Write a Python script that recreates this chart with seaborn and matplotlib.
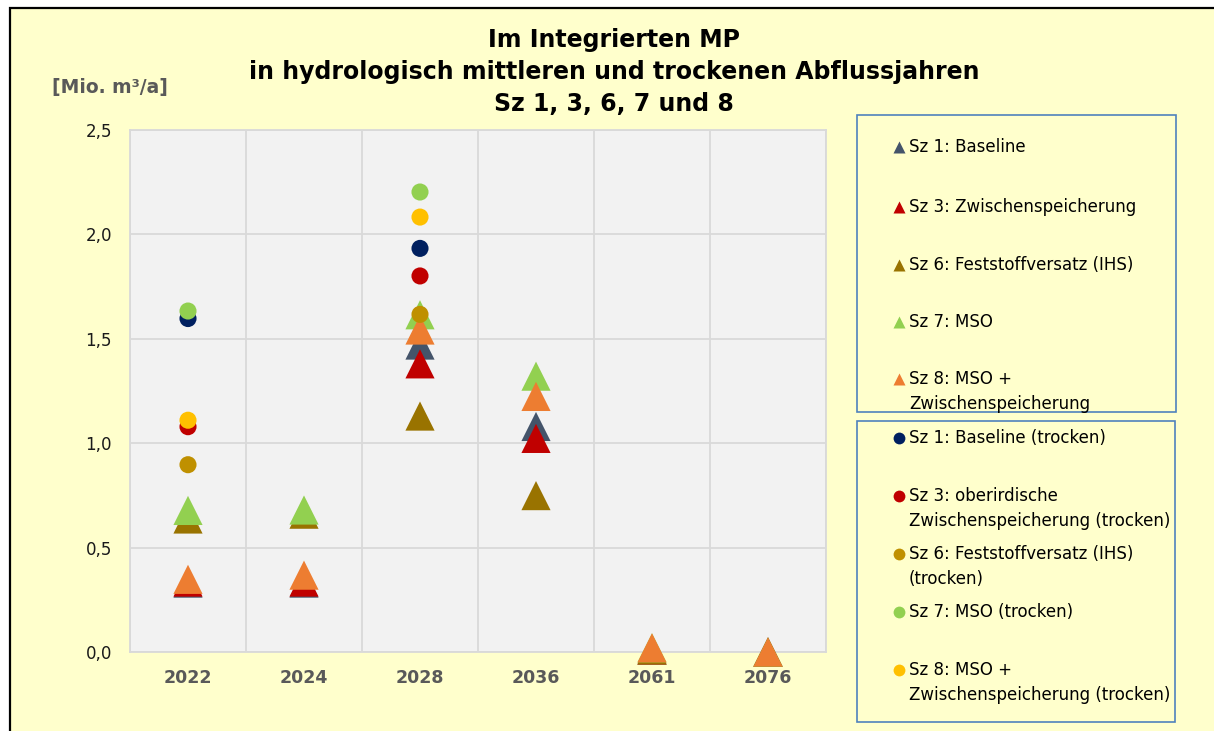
import numpy as np
import pandas as pd
import matplotlib.pyplot as plt
import seaborn as sns
from matplotlib.lines import Line2D
from matplotlib.patches import Rectangle

# Kategorien (Jahre)
jahre = ['2022', '2024', '2028', '2036', '2061', '2076']

# mittlere Abflussjahre (Dreiecke)
namen_mittel = ['Sz 1: Baseline', 'Sz 3: Zwischenspeicherung',
                'Sz 6: Feststoffversatz (IHS)', 'Sz 7: MSO',
                'Sz 8: MSO +\nZwischenspeicherung']
sz1 = [0.33, 0.33, 1.47, 1.08, 0.01, 0.0]
sz3 = [0.335, 0.335, 1.38, 1.023, 0.01, 0.0]
sz6 = [0.637, 0.66, 1.13, 0.749, 0.01, 0.0]
sz7 = [0.678, 0.68, 1.615, 1.321, 0.02, 0.0]
sz8 = [0.348, 0.368, 1.542, 1.224, 0.02, 0.0]

# trockene Abflussjahre (Kreise)
namen_trocken = ['Sz 1: Baseline (trocken)',
                 'Sz 3: oberirdische\nZwischenspeicherung (trocken)',
                 'Sz 6: Feststoffversatz (IHS)\n(trocken)',
                 'Sz 7: MSO (trocken)',
                 'Sz 8: MSO +\nZwischenspeicherung (trocken)']
sz1_tr = [1.597, np.nan, 1.933, np.nan, np.nan, np.nan]
sz3_tr = [1.079, np.nan, 1.801, np.nan, np.nan, np.nan]
sz6_tr = [0.897, np.nan, 1.617, np.nan, np.nan, np.nan]
sz7_tr = [1.633, np.nan, 2.203, np.nan, np.nan, np.nan]
sz8_tr = [1.11, np.nan, 2.083, np.nan, np.nan, np.nan]

farben_mittel = ['#44546A', '#C00000', '#997300', '#92D050', '#ED7D31']
farben_trocken = ['#002060', '#C00000', '#BF9000', '#92D050', '#FFC000']

y_ticks = [0.0, 0.5, 1.0, 1.5, 2.0, 2.5]
y_ticklabels = ['0,0', '0,5', '1,0', '1,5', '2,0', '2,5']


def long_df(namen, reihen):
    rows = []
    for name, werte in zip(namen, reihen):
        for j, w in zip(jahre, werte):
            rows.append({'Jahr': j, 'Wert': w, 'Szenario': name})
    return pd.DataFrame(rows)


df_m = long_df(namen_mittel, [sz1, sz3, sz6, sz7, sz8])
df_t = long_df(namen_trocken, [sz1_tr, sz3_tr, sz6_tr, sz7_tr, sz8_tr]).dropna()

W, H = 1214, 731
fig = plt.figure(figsize=(W / 100, H / 100), dpi=100)
fig.patch.set_facecolor('white')


def px(x, y):
    return x / W, 1 - y / H


# gelber Diagrammbereich mit schwarzem Rahmen
fig.add_artist(Rectangle(px(10, 760), 1.2, (760 - 8) / H, transform=fig.transFigure,
                         facecolor='#FFFFCC', edgecolor='black', lw=1.6, zorder=-5))

l, b = px(130, 652)
r, t = px(826, 130)
ax = fig.add_axes([l, b, r - l, t - b])
ax.set_facecolor('#F2F2F2')

sns.stripplot(data=df_m, x='Jahr', y='Wert', hue='Szenario', order=jahre,
              hue_order=namen_mittel, palette=dict(zip(namen_mittel, farben_mittel)),
              jitter=False, dodge=False, marker='^', size=21, linewidth=0,
              legend=False, clip_on=False, ax=ax)
sns.stripplot(data=df_t, x='Jahr', y='Wert', hue='Szenario', order=jahre,
              hue_order=namen_trocken, palette=dict(zip(namen_trocken, farben_trocken)),
              jitter=False, dodge=False, marker='o', size=12.3, linewidth=0,
              legend=False, clip_on=False, ax=ax)

ax.set_xlim(-0.5, 5.5)
ax.set_ylim(0, 2.5)
ax.set_yticks(y_ticks)
ax.set_yticklabels(y_ticklabels, fontsize=12, color='#1a1a1a')
ax.set_xticks(range(len(jahre)))
ax.set_xticklabels(jahre, fontsize=12.5, fontweight='bold', color='#595959')
ax.set_xticks(np.arange(-0.5, 6, 1), minor=True)
ax.tick_params(which='both', length=0)
ax.tick_params(axis='y', pad=13)
ax.tick_params(axis='x', pad=12)
ax.set_axisbelow(True)
ax.grid(True, axis='y', which='major', color='#D9D9D9', lw=1.3)
ax.grid(True, axis='x', which='minor', color='#D9D9D9', lw=1.3)
ax.grid(False, axis='x', which='major')
for s in ax.spines.values():
    s.set_color('#D9D9D9')
    s.set_linewidth(1.3)
ax.set_xlabel('')
ax.set_ylabel('')

# Titel
titel = ['Im Integrierten MP',
         'in hydrologisch mittleren und trockenen Abflussjahren',
         'Sz 1, 3, 6, 7 und 8']
for zeile, yy in zip(titel, [40, 72, 104]):
    fig.text(*px(614, yy), zeile, ha='center', va='center', fontsize=17,
             fontweight='bold', color='black')

fig.text(*px(110, 87), '[Mio. m³/a]', ha='center', va='center', fontsize=13.5,
         fontweight='bold', color='#595959')

# Legenden
for (x0, y0, x1, y1) in [(857, 115, 1176, 412), (857, 421, 1175, 722)]:
    fig.add_artist(Rectangle(px(x0, y1), (x1 - x0) / W, (y1 - y0) / H,
                             transform=fig.transFigure, facecolor='none',
                             edgecolor='#4F81BD', lw=1.2))

leg_y_m = [147, 207, 265, 322, 379]
leg_y_t = [438, 496, 554, 612, 670]
for namen, farben, ys, mk in [(namen_mittel, farben_mittel, leg_y_m, '^'),
                              (namen_trocken, farben_trocken, leg_y_t, 'o')]:
    for name, farbe, yy in zip(namen, farben, ys):
        mx, my = px(899, yy)
        fig.add_artist(Line2D([mx], [my], marker=mk, ms=8.5, color=farbe, lw=0,
                              mec='none', transform=fig.transFigure))
        fig.text(*px(909, yy - 9), name, ha='left', va='top', fontsize=12,
                 color='black', linespacing=1.5)

fig.savefig('out.png', dpi=100)
